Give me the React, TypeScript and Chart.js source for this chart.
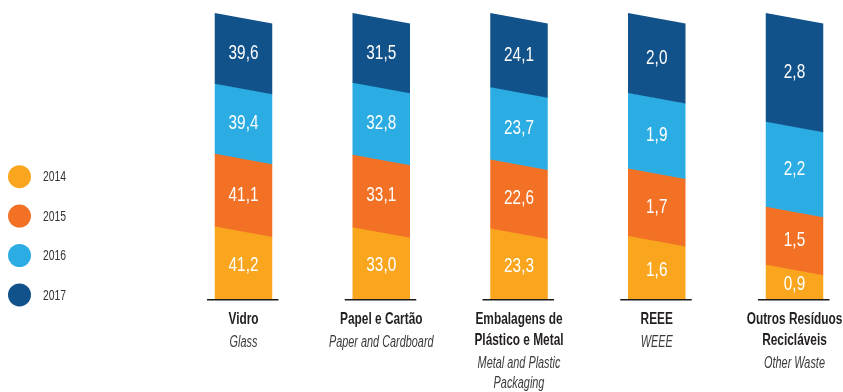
import React, { useEffect, useRef } from "react";
import { Chart, registerables } from "chart.js";

Chart.register(...registerables);

const categories = ["Vidro", "Papel e Cartão", "Embalagens", "REEE", "Outros"];
const categoryLabelsPt = [
  ["Vidro"],
  ["Papel e Cartão"],
  ["Embalagens de", "Plástico e Metal"],
  ["REEE"],
  ["Outros Resíduos", "Recicláveis"],
];
const categoryLabelsEn = [
  ["Glass"],
  ["Paper and Cardboard"],
  ["Metal and Plastic", "Packaging"],
  ["WEEE"],
  ["Other Waste"],
];
const seriesNames = ["2014", "2015", "2016", "2017"];
const values2014 = [41.2, 33.0, 23.3, 1.6, 0.9];
const values2015 = [41.1, 33.1, 22.6, 1.7, 1.5];
const values2016 = [39.4, 32.8, 23.7, 1.9, 2.2];
const values2017 = [39.6, 31.5, 24.1, 2.0, 2.8];
const seriesColors = ["#F9A61E", "#F37125", "#2BACE2", "#12528A"];

const allSeries = [values2014, values2015, values2016, values2017];
const totals = categories.map((_, j) => allSeries.reduce((s, arr) => s + arr[j], 0));
const shares = allSeries.map((arr) => arr.map((v, j) => (v / totals[j]) * 100));

const FONT = "'Liberation Sans', Arial, sans-serif";
const SLANT = 10.5;

function narrowText(ctx: CanvasRenderingContext2D, text: string, x: number, y: number, sx: number) {
  ctx.save();
  ctx.translate(x, y);
  ctx.scale(sx, 1);
  ctx.fillText(text, 0, 0);
  ctx.restore();
}

const customDraw = {
  id: "customDraw",
  beforeDatasetsDraw(chart: any) {
    const ctx = chart.ctx;
    const area = chart.chartArea;
    const bottom = area.bottom;
    ctx.save();
    chart.data.datasets.forEach((ds: any, i: number) => {
      const meta = chart.getDatasetMeta(i);
      meta.data.forEach((el: any) => {
        const { x, y, base, width } = el.getProps(["x", "y", "base", "width"], true);
        const l = x - width / 2;
        const r = x + width / 2;
        ctx.save();
        ctx.beginPath();
        ctx.rect(0, 0, chart.width, bottom);
        ctx.clip();
        ctx.beginPath();
        ctx.moveTo(l, y);
        ctx.lineTo(r, y + SLANT);
        ctx.lineTo(r, base + SLANT + (i === 0 ? 0 : 0.6));
        ctx.lineTo(l, base + (i === 0 ? 0 : 0.6));
        ctx.closePath();
        ctx.fillStyle = seriesColors[i];
        ctx.fill();
        ctx.restore();
      });
    });
    ctx.fillStyle = "#FFFFFF";
    ctx.font = `21px ${FONT}`;
    ctx.textAlign = "center";
    ctx.textBaseline = "middle";
    chart.data.datasets.forEach((ds: any, i: number) => {
      const meta = chart.getDatasetMeta(i);
      meta.data.forEach((el: any, j: number) => {
        const { x, y, base } = el.getProps(["x", "y", "base"], true);
        let yc;
        if (i === 0) yc = (y + SLANT / 2 + bottom) / 2;
        else yc = (y + base) / 2 + SLANT / 2;
        const v = allSeries[i][j];
        narrowText(ctx, v.toFixed(1).replace(".", ","), x, yc, 0.73);
      });
    });
    const meta0 = chart.getDatasetMeta(0);
    meta0.data.forEach((el: any, j: number) => {
      const x = el.x;
      ctx.strokeStyle = "#1A1A1A";
      ctx.lineWidth = 1.5;
      ctx.beginPath();
      ctx.moveTo(x - 36.5, bottom + 0.75);
      ctx.lineTo(x + 35, bottom + 0.75);
      ctx.stroke();
      ctx.textAlign = "center";
      ctx.textBaseline = "middle";
      let yy = bottom + 20;
      ctx.fillStyle = "#231F20";
      ctx.font = `bold 16.5px ${FONT}`;
      categoryLabelsPt[j].forEach((t, k) => {
        if (k > 0) yy += 21;
        narrowText(ctx, t, x, yy, 0.72);
      });
      yy += 23.5;
      ctx.fillStyle = "#3A3A3A";
      ctx.font = `italic 16px ${FONT}`;
      categoryLabelsEn[j].forEach((t, k) => {
        if (k > 0) yy += 20;
        narrowText(ctx, t, x, yy, 0.68);
      });
    });
    seriesNames.forEach((name, i) => {
      const cy = 176.7 + i * 39.4;
      ctx.beginPath();
      ctx.arc(19.5, cy, 11.5, 0, Math.PI * 2);
      ctx.fillStyle = seriesColors[i];
      ctx.fill();
      ctx.fillStyle = "#333333";
      ctx.font = `15.5px ${FONT}`;
      ctx.textAlign = "left";
      ctx.textBaseline = "middle";
      narrowText(ctx, name, 43, cy + 0.5, 0.67);
    });
    ctx.restore();
    return false;
  },
};

export default function App() {
  const canvasRef = useRef<HTMLCanvasElement | null>(null);
  useEffect(() => {
    if (!canvasRef.current) return;
    const chart = new Chart(canvasRef.current, {
      type: "bar",
      data: {
        labels: categories,
        datasets: seriesNames.map((name, i) => ({
          label: name,
          data: shares[i],
          backgroundColor: seriesColors[i],
          borderWidth: 0,
          barThickness: 57.5,
        })),
      },
      options: {
        animation: false,
        responsive: true,
        maintainAspectRatio: false,
        layout: { padding: { left: 243.5, right: 48.5, top: 13, bottom: 93 } },
        plugins: {
          legend: { display: false },
          tooltip: { enabled: false },
        },
        scales: {
          x: { stacked: true, display: false, offset: false },
          y: { stacked: true, display: false, min: 0, max: 100 },
        },
      },
      plugins: [customDraw],
    });
    return () => chart.destroy();
  }, []);
  return (
    <div style={{ position: "fixed", left: 0, top: 0, width: 843, height: 392, background: "#fff" }}>
      <canvas ref={canvasRef} />
    </div>
  );
}
